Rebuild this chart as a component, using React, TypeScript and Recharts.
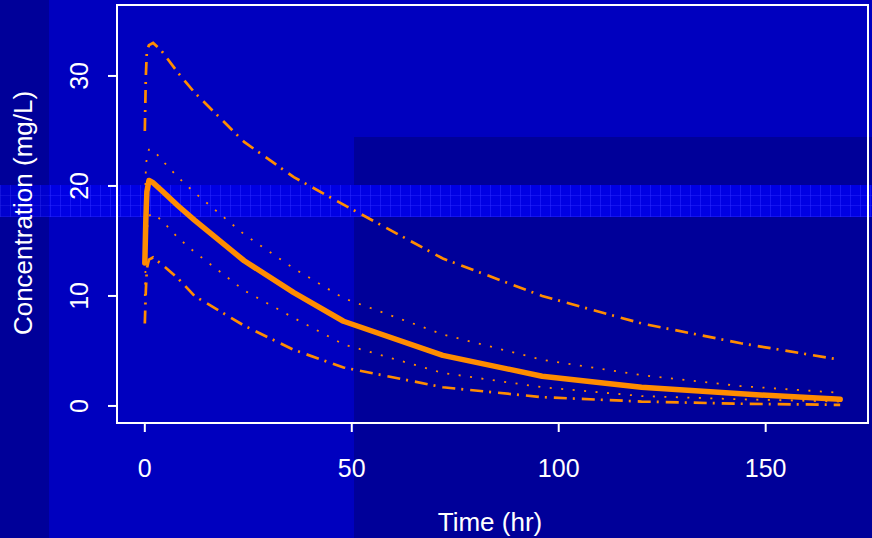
import { LineChart, Line, XAxis, YAxis, ReferenceArea } from "recharts";

// Simulated concentration-time profile: median with 25/75 (dotted) and 5/95 (dash-dot) bands.
const time = [0, 0.25, 0.5, 1, 2, 4, 8, 12, 24, 36, 48, 72, 96, 120, 144, 168];
const p05 = [7.5, 10.5, 12.5, 13.3, 13.5, 12.9, 11.6, 10.0, 7.3, 5.1, 3.5, 1.7, 0.8, 0.4, 0.2, 0.1];
const p25 = [10, 13.5, 16, 17.3, 17.5, 16.9, 15.3, 14.0, 10.5, 8.0, 5.6, 3.0, 1.7, 0.9, 0.6, 0.4];
const p50 = [13, 17, 19.5, 20.5, 20.3, 19.6, 18.2, 16.9, 13.2, 10.3, 7.7, 4.6, 2.7, 1.7, 1.1, 0.6];
const p75 = [18, 21.5, 22.8, 23.3, 23.3, 22.4, 20.8, 19.4, 15.6, 12.5, 9.8, 6.5, 4.2, 2.8, 1.8, 1.2];
const p95 = [25, 30, 32.3, 32.8, 33.0, 32.3, 30.3, 28.5, 24.0, 20.8, 18.3, 13.4, 10.0, 7.5, 5.7, 4.2];

const xTicks = [0, 50, 100, 150];
const yTicks = [0, 10, 20, 30];

const data = time.map((t, i) => ({ t, p05: p05[i], p25: p25[i], p50: p50[i], p75: p75[i], p95: p95[i] }));

const X_DOMAIN: [number, number] = [-6.72, 174.72];
const Y_DOMAIN: [number, number] = [-1.55, 36.45];
const ORANGE = "#ff8c00";
const FONT = "'Liberation Sans', Arial, sans-serif";

function Backdrop() {
  const abs = { position: "absolute" as const };
  return (
    <div style={{ ...abs, left: 0, top: 0, width: 872, height: 538, background: "#0000bf" }}>
      <div style={{ ...abs, left: 0, top: 0, width: 49, height: 538, background: "#000099" }} />
      <div style={{ ...abs, left: 354, top: 137, width: 518, height: 401, background: "#000099" }} />
      <div
        style={{
          ...abs,
          left: 0,
          top: 185,
          width: 872,
          height: 32,
          background:
            "repeating-linear-gradient(90deg, rgba(40,40,255,0.55) 0 1px, transparent 1px 10px), repeating-linear-gradient(0deg, rgba(40,40,255,0.45) 0 1px, transparent 1px 10.7px), #0000e4",
        }}
      />
      <div style={{ ...abs, left: 0, top: 185, width: 49, height: 32, background: "rgba(0,0,60,0.12)" }} />
    </div>
  );
}

export default function App() {
  return (
    <div style={{ position: "fixed", left: 0, top: 0, width: 872, height: 538, overflow: "hidden" }}>
      <Backdrop />
      <div style={{ position: "absolute", left: 0, top: 0 }}>
        <LineChart width={872} height={538} data={data} margin={{ top: 5, right: 4, left: 0, bottom: 0 }}>
          <XAxis
            dataKey="t"
            type="number"
            domain={X_DOMAIN}
            allowDataOverflow
            ticks={xTicks}
            height={115}
            axisLine={false}
            tickSize={9}
            tickLine={{ stroke: "#fff", strokeWidth: 2 }}
            tick={({ x, payload }: any) => (
              <text x={x} y={477} textAnchor="middle" fill="#fff" fontSize={25} fontFamily={FONT}>
                {payload.value}
              </text>
            )}
            label={{
              content: () => (
                <text x={490} y={531} textAnchor="middle" fill="#fff" fontSize={26} fontFamily={FONT}>
                  Time (hr)
                </text>
              ),
            }}
          />
          <YAxis
            type="number"
            domain={Y_DOMAIN}
            allowDataOverflow
            ticks={yTicks}
            width={117}
            axisLine={false}
            tickSize={9}
            tickLine={{ stroke: "#fff", strokeWidth: 2 }}
            tick={({ y, payload }: any) => (
              <text
                x={88}
                y={y}
                transform={`rotate(-90, 88, ${y})`}
                textAnchor="middle"
                fill="#fff"
                fontSize={25}
                fontFamily={FONT}
              >
                {payload.value}
              </text>
            )}
            label={{
              content: () => (
                <text
                  x={32}
                  y={213}
                  transform="rotate(-90, 32, 213)"
                  textAnchor="middle"
                  fill="#fff"
                  fontSize={26}
                  fontFamily={FONT}
                >
                  Concentration (mg/L)
                </text>
              ),
            }}
          />
          <ReferenceArea
            x1={X_DOMAIN[0]}
            x2={X_DOMAIN[1]}
            y1={Y_DOMAIN[0]}
            y2={Y_DOMAIN[1]}
            fill="none"
            stroke="#fff"
            strokeWidth={2}
            ifOverflow="visible"
          />
          <Line dataKey="p95" type="linear" stroke={ORANGE} strokeWidth={2.7} strokeDasharray="13 6 2 7" dot={false} isAnimationActive={false} />
          <Line dataKey="p05" type="linear" stroke={ORANGE} strokeWidth={2.7} strokeDasharray="13 6 2 7" dot={false} isAnimationActive={false} />
          <Line dataKey="p75" type="linear" stroke={ORANGE} strokeWidth={1.8} strokeDasharray="2 9.5" dot={false} isAnimationActive={false} />
          <Line dataKey="p25" type="linear" stroke={ORANGE} strokeWidth={1.8} strokeDasharray="2 9.5" dot={false} isAnimationActive={false} />
          <Line
            dataKey="p50"
            type="linear"
            stroke={ORANGE}
            strokeWidth={5.5}
            strokeLinecap="round"
            strokeLinejoin="round"
            dot={false}
            isAnimationActive={false}
          />
        </LineChart>
      </div>
    </div>
  );
}
